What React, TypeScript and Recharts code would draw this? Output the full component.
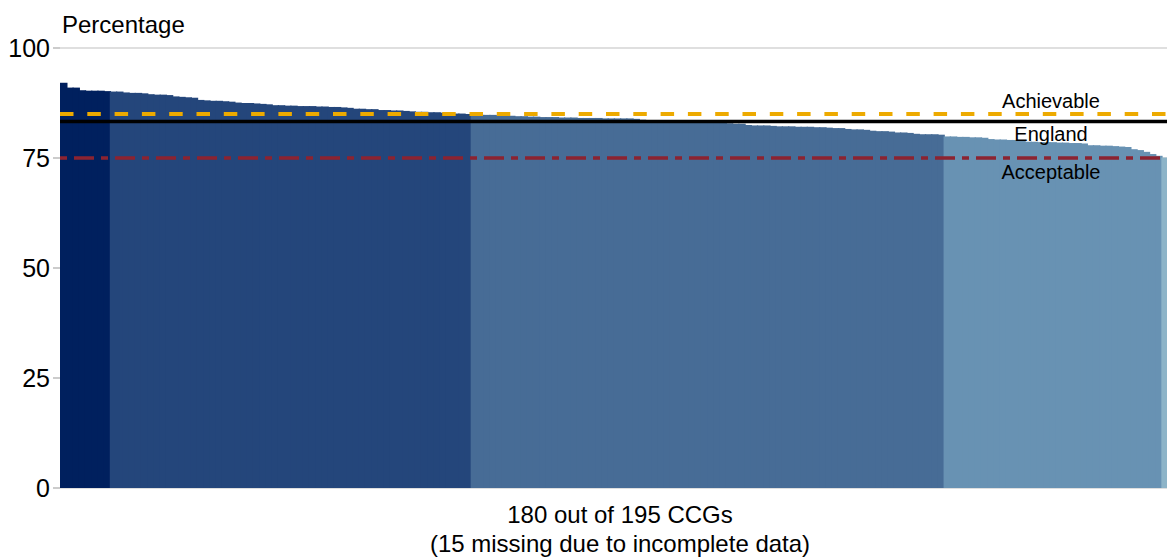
import React from "react";
import { BarChart, Bar, Cell, XAxis, YAxis, CartesianGrid, ReferenceLine } from "recharts";

// CCG percentages, sorted high to low, split by the colour band they sit in
const band1Values = [92.1, 91.0, 91.0, 90.4, 90.3, 90.3, 90.3, 90.2];
const band2Values = [
  90.1, 90.1, 89.9, 89.8, 89.8, 89.7, 89.5, 89.4, 89.4, 89.3, 89.0, 88.9, 88.8, 88.7, 88.2, 88.1, 88.0, 88.0, 87.9, 87.8,
  87.6, 87.5, 87.5, 87.4, 87.3, 87.2, 87.0, 87.0, 86.9, 86.9, 86.8, 86.8, 86.8, 86.7, 86.7, 86.6, 86.6, 86.5, 86.4, 86.2,
  86.2, 86.1, 86.1, 85.9, 85.9, 85.8, 85.8, 85.7, 85.6, 85.5, 85.5, 85.4, 85.4, 85.3, 85.2, 85.1, 85.1, 85.0,
];
const band3Values = [
  84.9, 84.8, 84.8, 84.8, 84.7, 84.7, 84.6, 84.5, 84.5, 84.4, 84.4, 84.3, 84.3, 84.3, 84.2, 84.2, 84.2, 84.1, 84.1, 84.1,
  84.1, 84.0, 84.0, 84.0, 84.0, 84.0, 83.9, 83.7, 83.6, 83.6, 83.5, 83.5, 83.4, 83.4, 83.4, 83.3, 83.3, 83.2, 83.2, 83.1,
  83.1, 82.9, 82.8, 82.8, 82.5, 82.4, 82.4, 82.4, 82.3, 82.2, 82.2, 82.2, 82.1, 82.1, 82.1, 82.0, 82.0, 81.9, 81.8, 81.8,
  81.6, 81.5, 81.5, 81.4, 81.2, 81.1, 81.1, 81.0, 80.8, 80.8, 80.7, 80.5, 80.4, 80.4, 80.4, 80.3,
];
const band4Values = [
  79.9, 79.9, 79.8, 79.8, 79.7, 79.7, 79.6, 79.3, 79.2, 79.2, 79.1, 79.1, 79.0, 78.7, 78.7, 78.6, 78.6, 78.6, 78.5, 78.5,
  78.4, 78.4, 78.3, 77.9, 77.9, 77.8, 77.8, 77.7, 77.6, 77.5, 77.0, 76.8, 76.4, 75.9, 75.5,
];
const band5Values = [75.1, 75.0, 74.9];

const BAND_COLORS = ["#00205E", "#24467B", "#476C96", "#6892B3", "#8DB4C8"];

const yTicks = [0, 25, 50, 75, 100];
const ACHIEVABLE = 85;
const ENGLAND = 83.3;
const ACCEPTABLE = 75;

const bands = [band1Values, band2Values, band3Values, band4Values, band5Values];
const tableData = bands
  .flatMap((vals, band) => vals.map((value) => ({ value, band })))
  .map((d, i) => ({ ccg: `CCG ${i + 1}`, value: d.value, band: d.band }));

const FONT = "'Liberation Sans', Arial, sans-serif";

// bars are a touch narrower than their band, so widen them to close the seams
const SolidBar = (props: any) => {
  const { x, y, width, height, payload } = props;
  if (!height || height <= 0) return null;
  return <rect x={x} y={y} width={width + 1.5} height={height} fill={BAND_COLORS[payload.band]} />;
};

const lineLabel = (text: string, dy: number) => (props: any) => {
  const vb = props.viewBox || {};
  return (
    <text x={1051} y={(vb.y || 0) + dy} textAnchor="middle" fontSize={20} fontFamily={FONT} fill="#000">
      {text}
    </text>
  );
};

export default function App() {
  return (
    <div style={{ position: "absolute", left: 0, top: 0, width: 1167, height: 558, overflow: "hidden", background: "#fff", fontFamily: FONT }}>
      <div style={{ position: "absolute", left: 62, top: 11, fontSize: 24, lineHeight: "28px", color: "#000" }}>Percentage</div>
      <BarChart
        width={1190}
        height={558}
        data={tableData}
        margin={{ top: 48, right: 10, left: 0, bottom: 70 }}
        barCategoryGap={0}
        barGap={0}
      >
        <CartesianGrid horizontal vertical={false} stroke="#d4d4d4" strokeWidth={1.5} />
        <XAxis dataKey="ccg" tick={false} tickLine={false} height={0} axisLine={{ stroke: "#cccccc", strokeWidth: 2 }} />
        <YAxis
          domain={[0, 100]}
          ticks={yTicks}
          width={60}
          axisLine={false}
          tickLine={{ stroke: "#bbbbbb", strokeWidth: 1.5 }}
          tickSize={7}
          tickMargin={3}
          tick={{ fontSize: 25, fill: "#000", fontFamily: FONT }}
        />
        <Bar dataKey="value" isAnimationActive={false} shape={SolidBar}>
          {tableData.map((d, i) => (
            <Cell key={i} fill={BAND_COLORS[d.band]} />
          ))}
        </Bar>
        <ReferenceLine y={ACCEPTABLE} stroke="#8C2331" strokeWidth={3.5} strokeDasharray="7 7 20 7" label={lineLabel("Acceptable", 21)} />
        <ReferenceLine y={ENGLAND} stroke="#000" strokeWidth={3.5} label={lineLabel("England", 20)} />
        <ReferenceLine y={ACHIEVABLE} stroke="#EDAA00" strokeWidth={4} strokeDasharray="13.5 13.8" label={lineLabel("Achievable", -6.5)} />
      </BarChart>
      <div style={{ position: "absolute", left: 0, width: 1240, top: 500, textAlign: "center", fontSize: 24, lineHeight: "29px", color: "#000" }}>
        180 out of 195 CCGs
        <br />
        (15 missing due to incomplete data)
      </div>
    </div>
  );
}
